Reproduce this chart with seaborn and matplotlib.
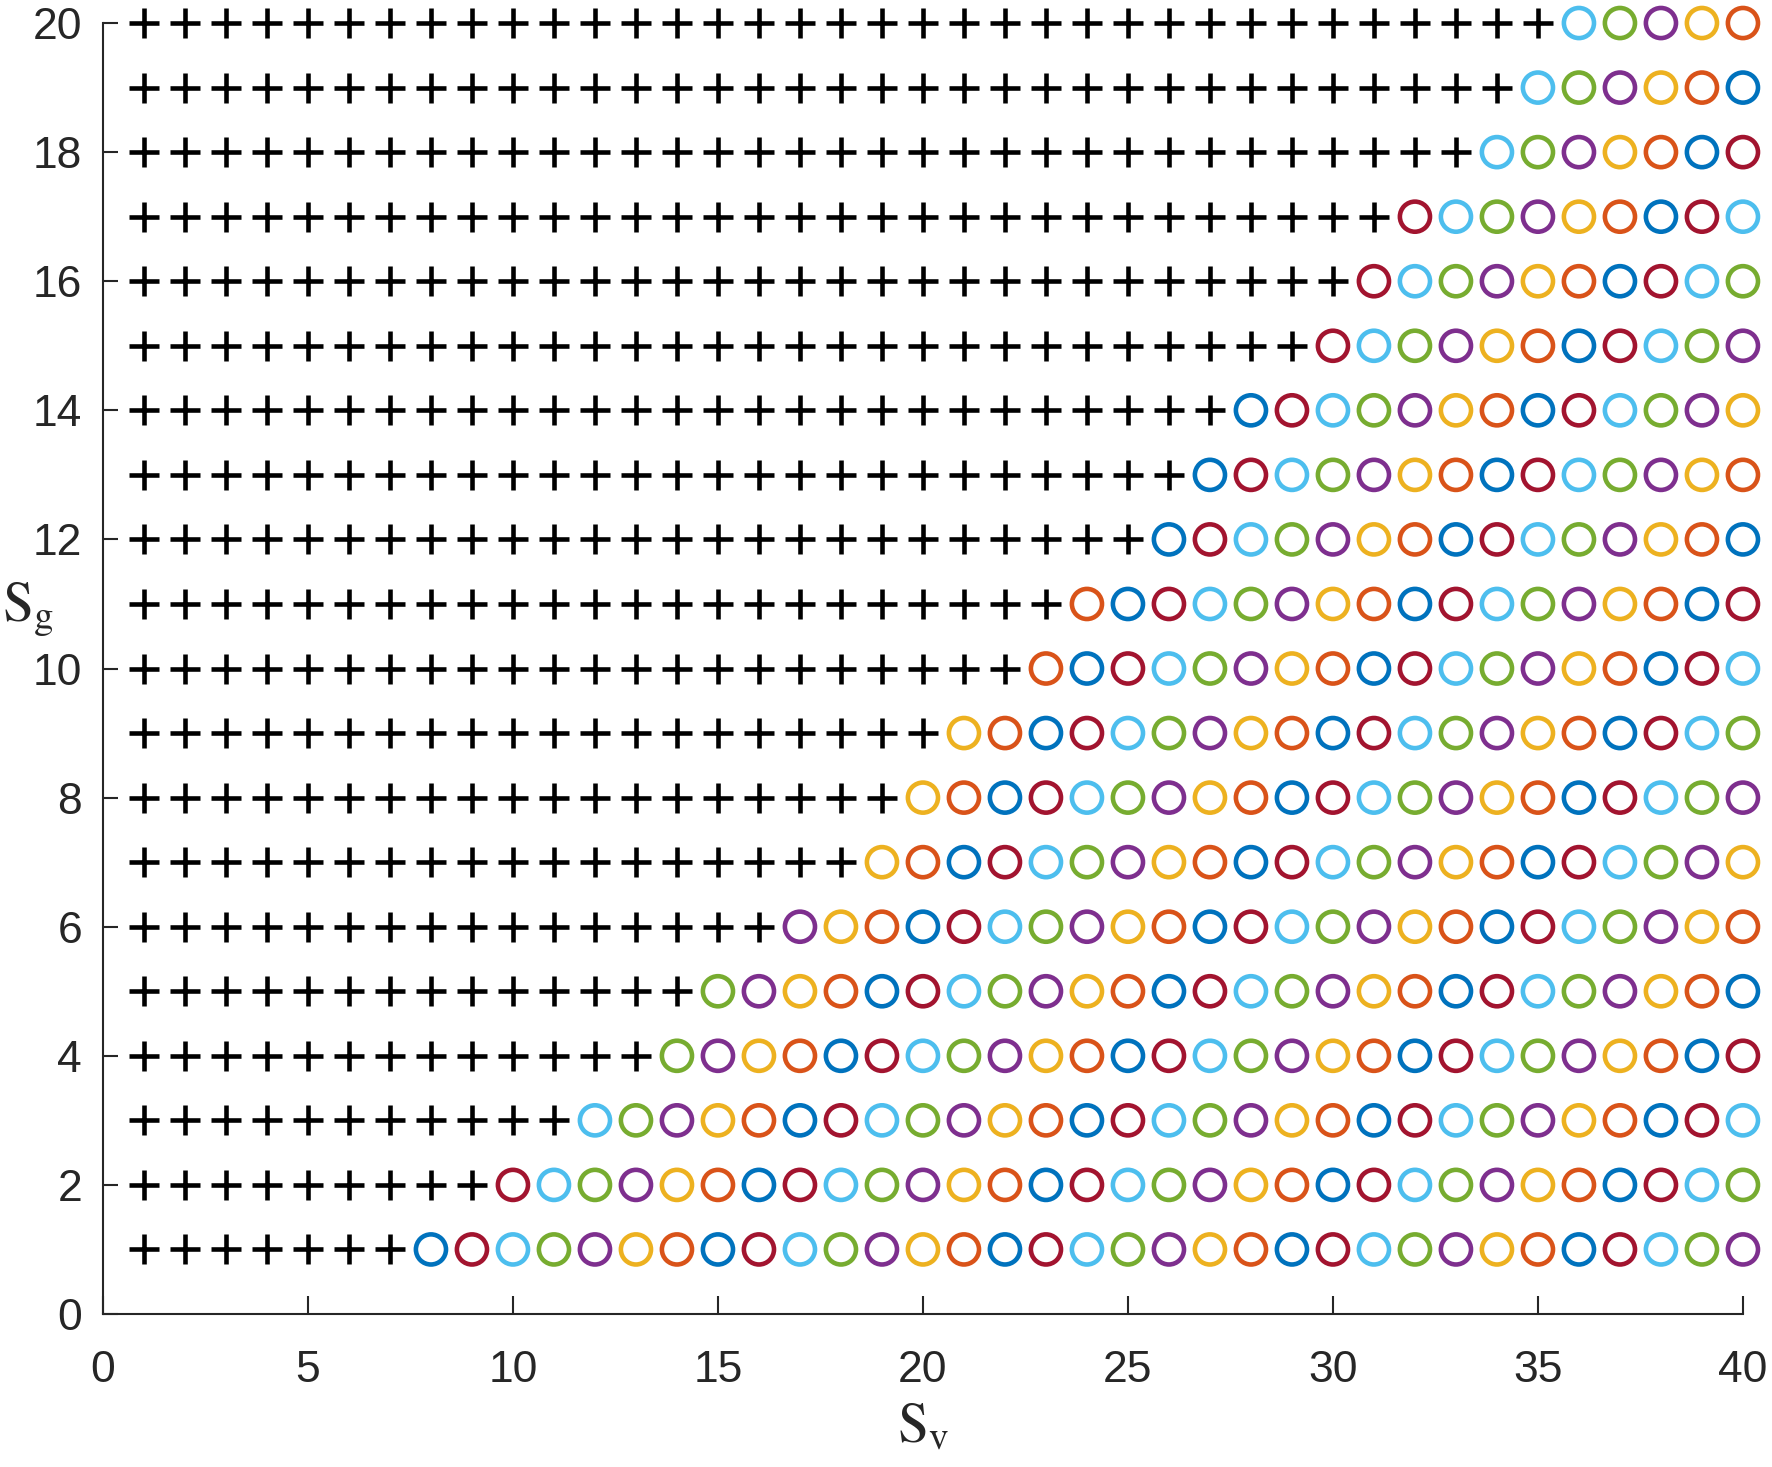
import numpy as np
import pandas as pd
import seaborn as sns
import matplotlib.pyplot as plt

# first S_v that gets a circle, for S_g = 1..20
sg_values = list(range(1, 21))
sv_values = list(range(1, 41))
first_circle = [8, 10, 12, 14, 15, 17, 19, 20, 21, 23,
                24, 26, 27, 28, 30, 31, 32, 34, 35, 36]

# colour cycle along the diagonals (S_v - S_g) mod 7
cycle_colors = ["#0072BD", "#A2142F", "#4DBEEE", "#77AC30",
                "#7E2F8E", "#EDB120", "#D95319"]

# Build the grid table
rows = []
for sg, start in zip(sg_values, first_circle):
    for sv in sv_values:
        rows.append({
            "Sv": sv,
            "Sg": sg,
            "kind": "circle" if sv >= start else "plus",
            "group": (sv - sg) % 7,
        })
df = pd.DataFrame(rows)
plus_df = df[df["kind"] == "plus"]
circ_df = df[df["kind"] == "circle"]

sns.set_style("white")
plt.rcParams["font.family"] = ["Liberation Sans", "DejaVu Sans"]
plt.rcParams["mathtext.fontset"] = "stix"

fig = plt.figure(figsize=(17.72, 14.67), dpi=100)
ax = fig.add_axes([0.0581, 0.1043, 0.9255, 0.88])

# plus markers
sns.scatterplot(data=plus_df, x="Sv", y="Sg", marker="+", color="black",
                s=480, linewidth=3.3, ax=ax, clip_on=False, legend=False)

# hollow circles
palette = {i: c for i, c in enumerate(cycle_colors)}
sns.scatterplot(data=circ_df, x="Sv", y="Sg", hue="group", palette=palette,
                marker="o", s=470, linewidth=3.3, ax=ax, clip_on=False,
                legend=False)
coll = ax.collections[-1]
coll.set_edgecolors(coll.get_facecolors())
coll.set_facecolors("none")

ax.set_xlim(0, 40)
ax.set_ylim(0, 20)
ax.set_xticks(range(0, 41, 5))
ax.set_yticks(range(0, 21, 2))

for side in ["top", "right"]:
    ax.spines[side].set_visible(False)
for side in ["left", "bottom"]:
    ax.spines[side].set_color("#262626")
    ax.spines[side].set_linewidth(1.5)

ax.tick_params(axis="x", direction="in", length=13, width=1.5,
               color="#262626", labelcolor="#262626", labelsize=32, pad=26)
ax.tick_params(axis="y", direction="in", length=11, width=1.5,
               color="#262626", labelcolor="#262626", labelsize=32, pad=15)
ax.tick_params(bottom=True, left=True)

ax.set_xlabel(r"$\mathrm{S_v}$", fontsize=40, labelpad=8)
ax.set_ylabel(r"$\mathrm{S_g}$", fontsize=40, rotation=0, va="center",
              ha="left")
ax.yaxis.set_label_coords(-0.0615, 0.545)

fig.savefig("out.png", dpi=100)
